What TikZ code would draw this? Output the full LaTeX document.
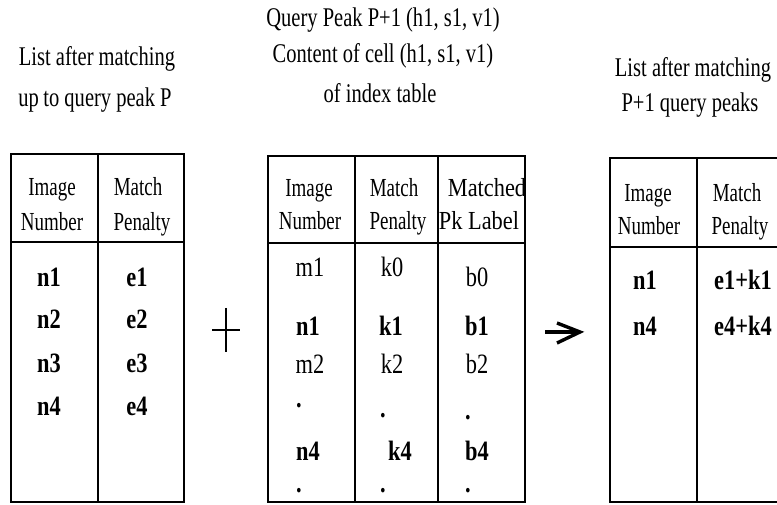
\documentclass[tikz,border=0pt]{standalone}
\usepackage{fontspec}
\setmainfont{Liberation Serif}
\newfontfamily\titlefont[FakeStretch=0.76]{Liberation Serif}
\newfontfamily\headfont[FakeStretch=0.73]{Liberation Serif}
\newfontfamily\wideheadfont[FakeStretch=0.86]{Liberation Serif}
\newfontfamily\bodyfont[FakeStretch=0.8]{Liberation Serif}
\begin{document}
\begin{tikzpicture}[x=1pt,y=-1pt,
  ttl/.style={font=\titlefont\fontsize{27}{27}\selectfont, anchor=base, inner sep=0pt},
  hd/.style={font=\headfont\fontsize{26}{26}\selectfont, anchor=base, inner sep=0pt},
  whd/.style={font=\wideheadfont\fontsize{26}{26}\selectfont, anchor=base, inner sep=0pt},
  rg/.style={font=\bodyfont\fontsize{28}{28}\selectfont, anchor=base, inner sep=0pt},
  bd/.style={font=\bodyfont\bfseries\fontsize{28}{28}\selectfont, anchor=base, inner sep=0pt},
  tbl/.style={line width=2.8pt, line join=miter},
  sym/.style={line width=2.5pt}]
\useasboundingbox (0,0) rectangle (777,505);
% titles
\node[ttl] (t1a) at (97,66) {List after matching};
\node[ttl] (t1b) at (95,107) {up\,to query peak P};
\node[ttl] (t2a) at (383,27) {Query Peak P+1 (h1, s1, v1)};
\node[ttl] (t2b) at (383,63) {Content of cell (h1, s1, v1)};
\node[ttl] (t2c) at (380,103) {of index table};
\node[ttl] (t3a) at (693,77) {List after matching};
\node[ttl] (t3b) at (690,112) {P+1 query peaks};
% table 1
\draw[tbl] (11,154) rectangle (184,502);
\draw[tbl] (98,154) -- (98,502);
\draw[tbl] (11,242) -- (184,242);
\node[hd] (h11) at (52,196) {Image};
\node[hd] (h12) at (52,231) {Number};
\node[hd] (h13) at (138,196) {Match};
\node[hd] (h14) at (142,231) {Penalty};
\node[bd] (a1) at (49,287) {n1};
\node[bd] (a2) at (49,329) {n2};
\node[bd] (a3) at (49,372) {n3};
\node[bd] (a4) at (49,415) {n4};
\node[bd] (b1) at (137,287) {e1};
\node[bd] (b2) at (137,329) {e2};
\node[bd] (b3) at (137,372) {e3};
\node[bd] (b4) at (137,415) {e4};
% plus
\coordinate (pl) at (212,330); \coordinate (pr) at (240,330);
\coordinate (pt) at (226,308); \coordinate (pb) at (226,352);
\draw[sym] (pl) -- (pr) (pt) -- (pb);
% table 2
\draw[tbl] (268,156) rectangle (525,502);
\draw[tbl] (355,156) -- (355,502);
\draw[tbl] (438,156) -- (438,502);
\draw[tbl] (268,243) -- (525,243);
\node[hd] (h21) at (309,197) {Image};
\node[hd] (h22) at (310,230) {Number};
\node[hd] (h23) at (394,197) {Match};
\node[hd] (h24) at (398,230) {Penalty};
\node[whd] (h25) at (487,197) {Matched};
\node[whd] (h26) at (479,230) {Pk Label};
\node[rg] (c1) at (310,277) {m1};
\node[rg] (d1) at (392,277) {k0};
\node[rg] (e1) at (477,287) {b0};
\node[bd] (c2) at (308,335) {n1};
\node[bd] (d2) at (391,335) {k1};
\node[bd] (e2) at (477,335) {b1};
\node[rg] (c3) at (310,373) {m2};
\node[rg] (d3) at (392,373) {k2};
\node[rg] (e3) at (477,373) {b2};
\node[bd] (c4) at (299,407) {.};
\node[bd] (d4) at (383,417) {.};
\node[bd] (e4) at (468,419) {.};
\node[bd] (c5) at (308,460) {n4};
\node[bd] (d5) at (400,460) {k4};
\node[bd] (e5) at (477,460) {b4};
\node[bd] (c6) at (299,492) {.};
\node[bd] (d6) at (383,492) {.};
\node[bd] (e6) at (468,492) {.};
% arrow
\coordinate (as) at (545,332); \coordinate (ae) at (580,332);
\coordinate (au) at (557,323); \coordinate (ad) at (557,343);
\draw[line width=3.4pt] (as) -- (ae);
\draw[line width=3.4pt, line join=miter] (au) -- (ae) -- (ad);
% table 3
\draw[tbl] (777,158) -- (610,158) -- (610,502) -- (777,502);
\draw[tbl] (697,158) -- (697,502);
\draw[tbl] (610,247) -- (777,247);
\node[hd] (h31) at (648,202) {Image};
\node[hd] (h32) at (649,235) {Number};
\node[hd] (h33) at (737,202) {Match};
\node[hd] (h34) at (740,235) {Penalty};
\node[bd] (f1) at (645,290) {n1};
\node[bd] (g1) at (743,290) {e1+k1};
\node[bd] (f2) at (645,335) {n4};
\node[bd] (g2) at (743,335) {e4+k4};
\end{tikzpicture}
\end{document}
